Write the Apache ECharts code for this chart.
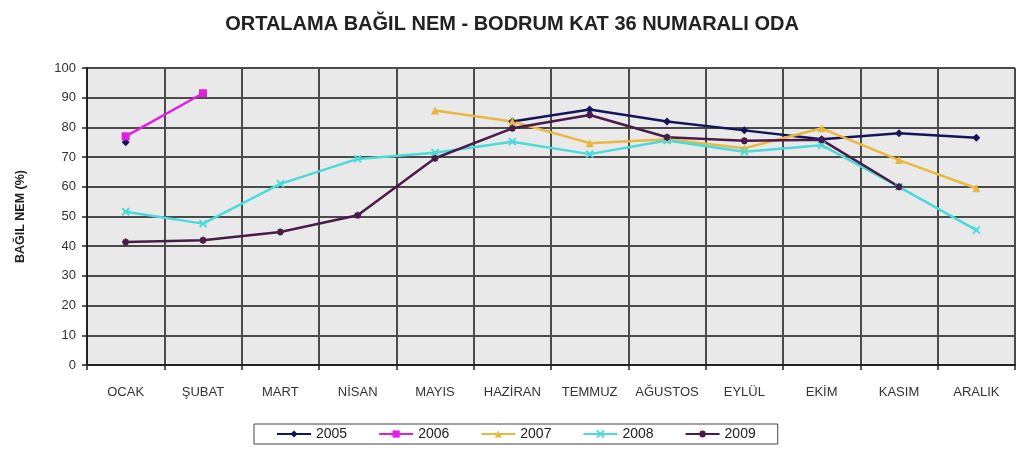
<!DOCTYPE html>
<html><head><meta charset="utf-8">
<script src="https://cdn.jsdelivr.net/npm/echarts@6/dist/echarts.min.js"></script>
<style>html,body{margin:0;padding:0;background:#fff}#c{width:1021px;height:451px}</style>
</head><body><div id="c"></div>
<script>
const title = "ORTALAMA BAĞIL NEM - BODRUM KAT 36 NUMARALI ODA";
const yAxisName = "BAĞIL NEM (%)";
const months = ["OCAK","ŞUBAT","MART","NİSAN","MAYIS","HAZİRAN","TEMMUZ","AĞUSTOS","EYLÜL","EKİM","KASIM","ARALIK"];
const y2005 = [75, null, null, null, null, 82, 86, 82, 79, 76, 78, 76.5];
const y2006 = [77, 91.5, null, null, null, null, null, null, null, null, null, null];
const y2007 = [null, null, null, null, 85.7, 82, 74.7, 76, 73, 79.7, 69, 59.5];
const y2008 = [51.6, 47.6, 61, 69.4, 71.5, 75.2, 71, 75.6, 71.8, 74, 60, 45.4];
const y2009 = [41.4, 42, 44.8, 50.4, 69.6, 79.7, 84.2, 76.7, 75.5, 75.8, 60, null];
const seriesNames = ["2005","2006","2007","2008","2009"];

const colors = ["#14145a", "#e020e0", "#e8b840", "#4adada", "#4a1a48"];
const symbols = ["diamond", "rect", "triangle", "path://M0,0 L10,10 M10,0 L0,10", "path://M5,0 L5,10 M0,5 L10,5 M1.5,1.5 L8.5,8.5 M8.5,1.5 L1.5,8.5"];
const data = [y2005, y2006, y2007, y2008, y2009];

const chart = echarts.init(document.getElementById('c'));
chart.setOption({
  animation: false,
  backgroundColor: '#ffffff',
  title: {
    text: title, left: 507, top: 9, textAlign: 'center',
    textStyle: {fontFamily: 'Liberation Sans, Arial', fontSize: 20, fontWeight: 'bold', color: '#222'}
  },
  grid: {left: 87, right: 6, top: 68, bottom: 86, show: true, backgroundColor: '#e9e9e9', borderWidth: 0},
  legend: {
    data: seriesNames, left: 254, top: 424,
    borderColor: '#444', borderWidth: 1, padding: [3, 22, 3, 22], itemGap: 31,
    itemWidth: 34, itemHeight: 9,
    textStyle: {fontFamily: 'Liberation Sans', fontSize: 14, color: '#222'}
  },
  xAxis: {
    type: 'category', data: months, boundaryGap: true,
    axisLine: {lineStyle: {color: '#222', width: 2}},
    axisTick: {show: true, length: 5, lineStyle: {color: '#222', width: 1.5}},
    axisLabel: {margin: 21, fontFamily: 'Liberation Sans', fontSize: 13, color: '#333', interval: 0},
    splitLine: {show: true, lineStyle: {color: '#4a4a4a', width: 2}}
  },
  yAxis: {
    type: 'value', min: 0, max: 100, interval: 10,
    name: yAxisName, nameLocation: 'middle', nameGap: 60, nameRotate: 90,
    nameTextStyle: {fontFamily: 'Liberation Sans', fontSize: 12.5, fontWeight: 'bold', color: '#222'},
    axisLine: {show: true, lineStyle: {color: '#222', width: 2}},
    axisTick: {show: true, length: 5, lineStyle: {color: '#222', width: 1.5}},
    axisLabel: {margin: 11, fontFamily: 'Liberation Sans', fontSize: 13, color: '#333'},
    splitLine: {show: true, lineStyle: {color: '#4a4a4a', width: 2}}
  },
  series: data.map((d, i) => ({
    name: seriesNames[i], type: 'line', data: d, connectNulls: false,
    symbol: symbols[i], symbolSize: i >= 3 ? 7 : 8, showAllSymbol: true,
    lineStyle: {color: colors[i], width: 2.5},
    itemStyle: {color: colors[i], borderColor: colors[i], borderWidth: i >= 3 ? 2 : 0}
  }))
});
</script></body></html>
